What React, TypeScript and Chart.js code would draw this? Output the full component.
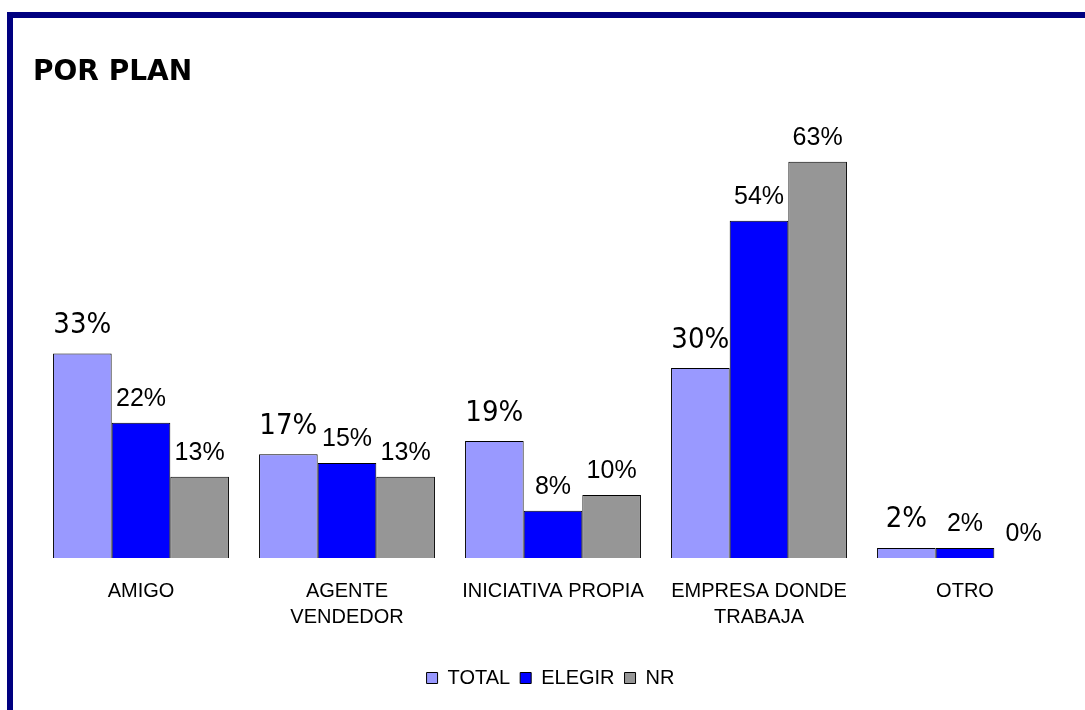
import React, { useEffect, useRef } from "react";
import { Chart, registerables } from "chart.js";

Chart.register(...registerables);

const categories: (string | string[])[] = [
  "AMIGO",
  ["AGENTE", "VENDEDOR"],
  "INICIATIVA PROPIA",
  ["EMPRESA DONDE", "TRABAJA"],
  "OTRO",
];
const totalValues = [32.5, 16.5, 18.6, 30.2, 1.6];
const elegirValues = [21.5, 15.1, 7.5, 53.6, 1.6];
const nrValues = [12.9, 12.9, 10.0, 63.0, 0];
const seriesNames = ["TOTAL", "ELEGIR", "NR"];
const titleText = "POR PLAN";

const labelPlugin = {
  id: "valueLabels",
  afterDatasetsDraw(chart: any) {
    const ctx = chart.ctx;
    ctx.save();
    ctx.textAlign = "center";
    ctx.textBaseline = "middle";
    ctx.fillStyle = "#000";
    chart.data.datasets.forEach((ds: any, i: number) => {
      const meta = chart.getDatasetMeta(i);
      const isTotal = i === 0;
      ctx.font = isTotal
        ? "29px 'DejaVu Sans Condensed', 'DejaVu Sans', sans-serif"
        : "25px 'Liberation Sans', Arial, sans-serif";
      const off = isTotal ? 28 : 24;
      meta.data.forEach((el: any, j: number) => {
        const v = ds.data[j];
        ctx.fillText(Math.round(v) + "%", el.x, el.y - off);
      });
    });
    ctx.restore();
  },
};

export default function App() {
  const ref = useRef<HTMLCanvasElement | null>(null);
  useEffect(() => {
    if (!ref.current) return;
    Chart.defaults.color = "#000";
    const chart = new Chart(ref.current, {
      type: "bar",
      data: {
        labels: categories,
        datasets: [
          { label: seriesNames[0], data: totalValues, backgroundColor: "#9999FF", borderColor: "#000", borderWidth: 1 },
          { label: seriesNames[1], data: elegirValues, backgroundColor: "#0000FF", borderColor: "#000", borderWidth: 1 },
          { label: seriesNames[2], data: nrValues, backgroundColor: "#969696", borderColor: "#000", borderWidth: 1 },
        ],
      },
      options: {
        responsive: false,
        animation: false,
        categoryPercentage: 0.854,
        barPercentage: 1,
        layout: { padding: { left: 33, right: 17, top: 56, bottom: 12 } },
        scales: {
          x: {
            grid: { display: false, drawTicks: false },
            border: { display: false },
            ticks: {
              color: "#000",
              font: { family: "'Liberation Sans', Arial, sans-serif", size: 20, lineHeight: 1.33 },
              padding: 20,
              maxRotation: 0,
              autoSkip: false,
            },
            afterFit: (s: any) => {
              s.height = 100;
            },
          },
          y: {
            min: 0,
            max: 70,
            grid: { display: false, drawTicks: false },
            border: { display: false },
            ticks: { display: false },
            afterFit: (s: any) => {
              s.width = 5;
            },
          },
        },
        plugins: {
          title: {
            display: true,
            text: titleText,
            align: "start",
            color: "#000",
            font: { family: "'DejaVu Sans', sans-serif", size: 28, weight: "bold", lineHeight: 1.2 },
            padding: { top: 0, bottom: 28 },
          },
          legend: {
            display: true,
            position: "bottom",
            labels: {
              boxWidth: 11,
              boxHeight: 11,
              padding: 10,
              color: "#000",
              font: { family: "'Liberation Sans', Arial, sans-serif", size: 20 },
            },
          },
          tooltip: { enabled: false },
        },
      },
      plugins: [labelPlugin],
    } as any);
    return () => chart.destroy();
  }, []);

  return (
    <div
      style={{
        position: "fixed",
        left: 0,
        top: 0,
        width: 1085,
        height: 710,
        overflow: "hidden",
        background: "#fff",
      }}
    >
      <div
        style={{
          position: "absolute",
          left: 7,
          top: 12,
          width: 2000,
          height: 2000,
          borderLeft: "6px solid #000080",
          borderTop: "6px solid #000080",
        }}
      />
      <canvas
        ref={ref}
        width={1085}
        height={710}
        style={{ position: "absolute", left: 0, top: 0, width: 1085, height: 710 }}
      />
    </div>
  );
}
